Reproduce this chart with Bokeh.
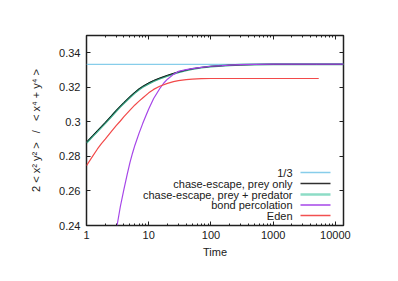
from bokeh.plotting import figure
from bokeh.models import (FixedTicker, PrintfTickFormatter, LinearAxis, LogAxis,
                          Label, BoxAnnotation, Range1d)
from bokeh.embed import file_html
from bokeh.resources import INLINE

# ---------------- data ----------------
third_t = [1, 13500]
third_v = [1/3, 1/3]

prey_t = [1, 1.25, 1.5, 1.75, 2, 2.5, 3, 3.5, 4, 5, 6, 7, 8, 10, 12, 15, 20, 25, 30,
          40, 50, 70, 100, 150, 200, 300, 500, 1000, 2000, 5000, 13500]
prey_v = [0.2883, 0.2920, 0.2950, 0.2975, 0.2997, 0.3035, 0.3067, 0.3092, 0.3113,
          0.3147, 0.3172, 0.3192, 0.3206, 0.3226, 0.3240, 0.3254, 0.3270, 0.3281,
          0.3289, 0.3300, 0.3307, 0.3315, 0.3321, 0.3325, 0.3328, 0.3330, 0.3332,
          0.3333, 0.3333, 0.3333, 0.3333]

pred_t = [1, 1.25, 1.5, 1.75, 2, 2.5, 3, 3.5, 4, 5, 6, 7, 8, 10, 12, 15, 20, 25, 30,
          40, 50, 70, 100, 150, 200, 300, 500, 1000, 2000, 5000, 13500]
pred_v = [0.2879, 0.2916, 0.2946, 0.2971, 0.2993, 0.3031, 0.3063, 0.3088, 0.3109,
          0.3143, 0.3168, 0.3188, 0.3202, 0.3222, 0.3236, 0.3250, 0.3266, 0.3278,
          0.3287, 0.3298, 0.3306, 0.3314, 0.3320, 0.3325, 0.3328, 0.3330, 0.3332,
          0.3333, 0.3333, 0.3333, 0.3333]

bond_t = [3.1, 3.5, 4, 4.5, 5, 5.5, 6, 7, 8, 9, 10, 12, 15, 17.5, 20, 25, 30, 40, 50,
          70, 100, 150, 200, 300, 500, 1000, 2000, 5000, 13500]
bond_v = [0.2400, 0.2510, 0.2610, 0.2695, 0.2765, 0.2820, 0.2865, 0.2935, 0.2990,
          0.3035, 0.3075, 0.3135, 0.3192, 0.3225, 0.3247, 0.3275, 0.3292, 0.3302,
          0.3308, 0.3316, 0.3322, 0.3326, 0.3329, 0.3331, 0.3333, 0.3334, 0.3334,
          0.3334, 0.3334]

eden_t = [1, 1.25, 1.5, 1.75, 2, 2.5, 3, 3.5, 4, 5, 6, 7, 8, 10, 12, 15, 20, 25, 30,
          40, 50, 70, 100, 200, 500, 1000, 2000, 5400]
eden_v = [0.2747, 0.2800, 0.2843, 0.2875, 0.2900, 0.2943, 0.2978, 0.3005, 0.3030,
          0.3068, 0.3098, 0.3120, 0.3138, 0.3168, 0.3188, 0.3206, 0.3223, 0.3233,
          0.3239, 0.3245, 0.3248, 0.3250, 0.3251, 0.3251, 0.3251, 0.3251, 0.3251,
          0.3251]

x_ticks = [1, 10, 100, 1000, 10000]
x_minor = [2, 3, 4, 5, 6, 7, 8, 9, 20, 30, 40, 50, 60, 70, 80, 90,
           200, 300, 400, 500, 600, 700, 800, 900,
           2000, 3000, 4000, 5000, 6000, 7000, 8000, 9000]
y_ticks = [0.24, 0.26, 0.28, 0.30, 0.32, 0.34]

labels = ["1/3", "chase-escape, prey only", "chase-escape, prey + predator",
          "bond percolation", "Eden"]
colors = ["#87cdea", "#1a1a1a", "#3aa888", "#a646e8", "#f24a4a"]
legend_colors = ["#87cdea", "#303030", "#8ddcc6", "#a646e8", "#f25050"]

FONT = "Liberation Sans"

p = figure(width=390, height=273, x_axis_type="log",
           x_range=Range1d(1, 13500), y_range=Range1d(0.24, 0.35),
           output_backend="svg", toolbar_location=None,
           min_border_left=86, min_border_right=47, min_border_top=35,
           min_border_bottom=48)
p.grid.visible = False
p.outline_line_color = "#202020"
p.outline_line_width = 1.5
p.background_fill_color = "white"
p.border_fill_color = "white"

p.line(third_t, third_v, color=colors[0], line_width=1.2)
p.line(pred_t, pred_v, color=colors[2], line_width=2)
p.line(prey_t, prey_v, color=colors[1], line_width=1)
p.line(bond_t, bond_v, color=colors[3], line_width=1.2)
p.line(eden_t, eden_v, color=colors[4], line_width=1.2)

xt = FixedTicker(ticks=x_ticks, minor_ticks=x_minor)
yt = FixedTicker(ticks=y_ticks)

def style(ax, show_labels):
    ax.axis_line_color = None
    ax.major_tick_in = 4
    ax.major_tick_out = 0
    ax.minor_tick_in = 2
    ax.minor_tick_out = 0
    ax.major_tick_line_color = "#202020"
    ax.minor_tick_line_color = "#202020"
    ax.major_label_text_font = FONT
    ax.major_label_text_font_size = "11px"
    ax.major_label_text_color = "#202020"
    ax.axis_label_text_font = FONT
    ax.axis_label_text_font_size = "11px"
    ax.axis_label_text_font_style = "normal"
    ax.axis_label_text_color = "#202020"
    if not show_labels:
        ax.major_label_text_alpha = 0
        ax.major_label_text_font_size = "1px"

xa = p.xaxis[0]
xa.ticker = xt
xa.formatter = PrintfTickFormatter(format="%g")
xa.axis_label = "Time"
xa.major_label_standoff = 5
xa.axis_label_standoff = 4
style(xa, True)

ya = p.yaxis[0]
ya.ticker = yt
ya.formatter = PrintfTickFormatter(format="%g")
ya.axis_label = "2 < x\u00b2 y\u00b2 >\u00a0\u00a0 /\u00a0\u00a0 < x\u2074 + y\u2074 >"
ya.major_label_standoff = 6
ya.axis_label_standoff = 14
style(ya, True)

top = LogAxis(ticker=FixedTicker(ticks=x_ticks, minor_ticks=x_minor))
style(top, False)
p.add_layout(top, "above")
right = LinearAxis(ticker=FixedTicker(ticks=y_ticks))
style(right, False)
p.add_layout(right, "right")

# legend (screen units relative to the plot frame, y from bottom)
rows_y = [53, 42, 31, 20.5, 10]
widths = [1.5, 1.5, 2.5, 1.5, 1.5]
for lab, col, yy, w in zip(labels, legend_colors, rows_y, widths):
    p.add_layout(Label(x=206, y=yy, x_units="screen", y_units="screen", text=lab,
                       text_align="right", text_baseline="middle",
                       text_font=FONT, text_font_size="11px", text_color="#202020"))
    p.add_layout(BoxAnnotation(left=214, right=244, bottom=yy - w / 2, top=yy + w / 2,
                               left_units="screen", right_units="screen",
                               bottom_units="screen", top_units="screen",
                               fill_color=col, fill_alpha=1, line_color=None,
                               level="overlay"))

open("out.html", "w").write(file_html(p, INLINE))
